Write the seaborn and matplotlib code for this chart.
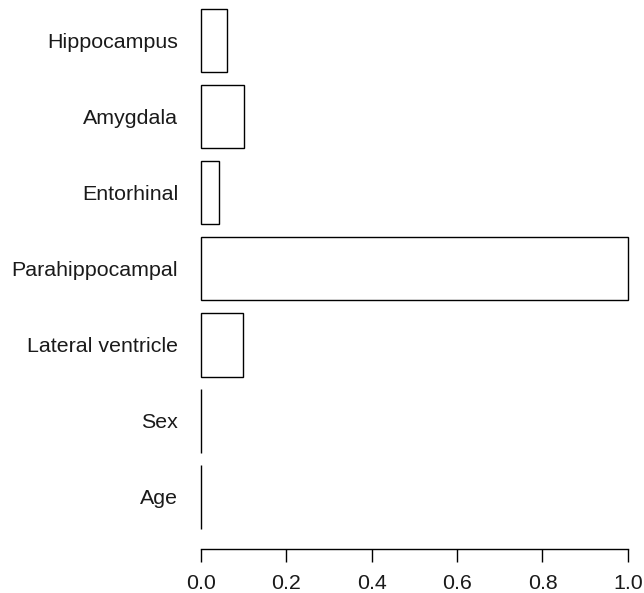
import pandas as pd
import seaborn as sns
import matplotlib
matplotlib.use("Agg")
import matplotlib.pyplot as plt

regions = ["Hippocampus", "Amygdala", "Entorhinal", "Parahippocampal",
           "Lateral ventricle", "Sex", "Age"]
importance = [0.061, 0.102, 0.044, 1.0, 0.100, 0.001, 0.001]
x_ticks = [0.0, 0.2, 0.4, 0.6, 0.8, 1.0]

df = pd.DataFrame({"region": regions, "importance": importance})

sns.set_theme(style="white")
plt.rcParams["font.family"] = ["Liberation Sans", "DejaVu Sans"]
plt.rcParams["text.color"] = "#1a1a1a"
plt.rcParams["xtick.labelcolor"] = "#1a1a1a"
plt.rcParams["ytick.labelcolor"] = "#1a1a1a"

fig = plt.figure(figsize=(6.44, 5.93), dpi=100)
ax = fig.add_axes([0.2851, 0.0742, 0.7165, 0.9258])

sns.barplot(data=df, x="importance", y="region", orient="h",
            color="white", edgecolor="black", linewidth=1.0,
            width=0.833, ax=ax)

ax.set_xlim(-0.04, 1.04)
ax.set_ylim(6.684, -0.533)
ax.set_xlabel("")
ax.set_ylabel("")

for side in ["top", "right", "left"]:
    ax.spines[side].set_visible(False)
ax.spines["bottom"].set_bounds(0, 1)
ax.spines["bottom"].set_color("black")
ax.spines["bottom"].set_linewidth(1.0)

ax.set_xticks(x_ticks)
ax.set_xticklabels([f"{t:.1f}" for t in x_ticks])
ax.tick_params(axis="x", direction="out", length=9.4, width=1.0,
               color="black", pad=8.5, labelsize=15.4, bottom=True,
               labelcolor="#1a1a1a")
ax.tick_params(axis="y", length=0, pad=4, labelsize=15.4,
               labelcolor="#1a1a1a")

fig.savefig("out.png", dpi=100)
